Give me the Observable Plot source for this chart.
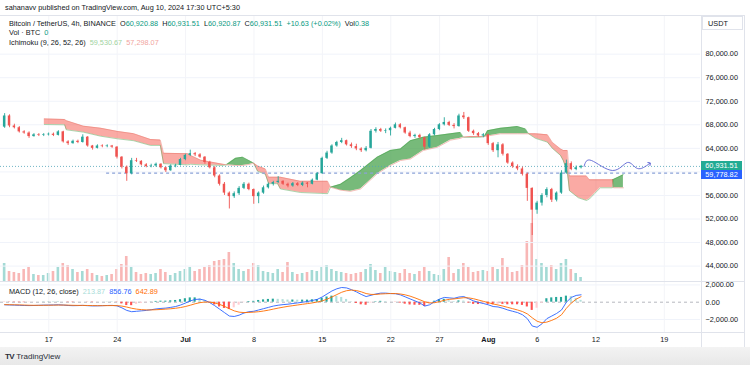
<!DOCTYPE html>
<html><head><meta charset="utf-8">
<script src="https://cdn.jsdelivr.net/npm/d3@7"></script>
<script src="https://cdn.jsdelivr.net/npm/@observablehq/plot@0.6"></script>
<style>
body{margin:0;background:#fff;font-family:"Liberation Sans",Arial,sans-serif;}
#wrap{position:relative;width:750px;height:365px;overflow:hidden;background:#fff;}
.abs{position:absolute;}
.t{font-size:7.3px;color:#131722;white-space:nowrap;line-height:10px;}
.pane{position:absolute;left:0;width:750px;overflow:hidden;}
.hl{position:absolute;background:#e0e3eb;}
</style></head><body><div id="wrap"></div>
<script>
// ---------- data (12h bars) ----------
const firstBar = "2024-06-12T11:30";
const barHours = 12;
const opens = [67600,69500,67800,67500,66800,66600,66000,66300,66200,66300,66400,66200,66800,65100,64800,65200,65000,65900,64400,64000,64400,64300,64400,64200,62500,60800,59700,61900,61800,61200,60900,61000,61300,60700,60200,61000,61100,62100,62800,63100,62900,62500,61600,60700,59300,57900,56400,55800,56300,57200,57900,57000,55800,56400,57300,57900,58200,58400,57900,57600,58000,57700,58100,57900,58600,59700,62300,63200,64400,65000,65300,64600,64300,63900,63600,64000,66900,67200,66900,67000,67400,68000,67500,66600,66000,66200,65800,64200,66300,67200,68000,68400,67900,67700,69500,69200,66900,66500,66100,66300,64800,63600,64600,63000,61500,60900,60500,59600,57200,53500,54700,56000,57000,55200,56400,59800,61400,60400,60700];
const highs = [69900,69700,68100,67700,67000,66800,66500,66500,66500,66600,66600,67000,66900,65300,65400,65400,66300,66000,64500,64600,64600,64600,64500,64300,62600,61000,62300,62300,61900,61400,61300,61500,61400,60800,61200,61300,62300,63000,63700,63300,63100,62600,61800,60900,59500,58200,56600,56600,57500,58200,58100,57100,56600,57600,58100,58400,59200,58500,58100,58200,58200,58300,58200,58800,59900,62500,63500,64600,65200,65700,65400,64900,64700,64100,64300,67200,67500,67400,67300,67600,68300,68200,67600,66900,66400,66400,65900,66500,67400,68200,69200,68600,68200,69800,70100,69300,67100,66700,66500,66400,65000,65000,64800,63100,61700,61200,60800,59800,57300,55000,56300,57300,57200,56600,60200,62000,61700,61000,61100];
const lows = [67400,67500,67300,66600,66400,65700,65900,66000,66000,66100,66000,66100,64900,64500,64700,64800,64900,64200,63700,63900,64100,64100,64000,62200,60500,58400,59500,61600,61000,60700,60700,60800,60500,59900,60100,60700,61000,61900,62600,62600,62300,61300,60500,59000,57600,56000,53700,55500,56000,57000,56800,54500,54600,56200,57100,57600,58000,57700,57300,57400,57500,57500,57300,57800,58500,59600,62100,63000,64200,64800,64400,64000,63600,63300,63400,63900,66600,66700,66500,66100,67300,67300,66400,65800,65700,65600,63700,64000,66100,67000,67800,67700,67300,67600,68900,66700,66200,65900,65800,64500,63300,62400,62700,61300,60600,60200,59300,55000,49200,52800,54200,55600,54800,54900,56200,59600,60200,60200,60500];
const closes = [69500,67800,67500,66800,66600,66000,66300,66200,66300,66400,66200,66800,65100,64800,65200,65000,65900,64400,64000,64400,64300,64400,64200,62500,60800,59700,61900,61800,61200,60900,61000,61300,60700,60200,61000,61100,62100,62800,63100,62900,62500,61600,60700,59300,57900,56400,55800,56300,57200,57900,57000,55800,56400,57300,57900,58200,58400,57900,57600,58000,57700,58100,57900,58600,59700,62300,63200,64400,65000,65300,64600,64300,63900,63600,64000,66900,67200,66900,67000,67400,68000,67500,66600,66000,66200,65800,64200,66300,67200,68000,68400,67900,67700,69500,69200,66900,66500,66100,66300,64800,63600,64600,63000,61500,60900,60500,59600,57200,53500,54700,56000,57000,55200,56400,59800,61400,60400,60700,60931.51];
const volumes = [7200,4000,3600,3200,4800,5600,2800,2400,2400,3200,4000,5600,7200,6400,4800,3600,4000,4800,3200,2400,2000,2400,2800,4800,6800,10000,5600,3600,2800,3200,2800,3200,4800,3600,2400,3200,4000,4800,5600,4000,4800,5600,6400,8000,8400,8800,11600,7200,4800,4000,4800,7200,6400,4000,3600,3200,4800,3600,7600,3600,2800,3200,3600,4400,4000,5600,6400,4800,4000,3600,3200,2800,3200,3600,4800,6800,4400,3200,5600,4000,3600,3200,4800,3200,2800,4000,5600,4000,2800,2400,4800,9600,3200,4800,7200,5600,3600,4000,4400,4000,5600,4800,9200,5600,3600,4000,6400,16000,23200,8800,7200,5600,6400,4800,7200,8800,4800,3200,1600];
const macdLine = [-300,-320,-340,-360,-380,-390,-380,-360,-340,-330,-320,-300,-330,-380,-400,-390,-370,-400,-430,-420,-400,-380,-370,-420,-650,-950,-1100,-1050,-1000,-950,-870,-780,-720,-680,-600,-500,-330,-100,150,320,350,220,-50,-400,-800,-1200,-1600,-1650,-1500,-1250,-1100,-1050,-900,-750,-600,-450,-350,-280,-230,-150,-80,0,80,200,330,600,950,1300,1550,1700,1650,1450,1200,900,650,800,950,1050,1050,1000,980,850,620,380,150,-80,-450,-300,50,350,550,500,450,600,650,400,150,-20,-150,-300,-500,-550,-700,-900,-1050,-1200,-1450,-1900,-2750,-2900,-2500,-1900,-1600,-1300,-900,0,550,780,856.76];
const signalLine = [-280,-290,-300,-310,-330,-350,-360,-360,-355,-350,-340,-330,-330,-340,-360,-370,-370,-380,-390,-400,-400,-395,-390,-395,-450,-560,-700,-800,-860,-890,-890,-870,-840,-800,-760,-700,-620,-500,-350,-180,-50,20,10,-80,-250,-480,-750,-1000,-1150,-1200,-1180,-1150,-1100,-1020,-920,-800,-680,-580,-480,-400,-320,-240,-160,-80,20,150,350,600,880,1150,1330,1400,1350,1200,1000,900,900,950,980,1000,1000,950,850,700,500,280,50,-80,-60,60,220,330,380,450,520,500,400,250,100,-50,-200,-320,-450,-600,-750,-900,-1080,-1350,-1800,-2200,-2380,-2300,-2100,-1850,-1450,-700,-100,350,642.89];
const histogram = [-20,-30,-40,-50,-50,-40,-20,0,15,20,20,30,0,-40,-40,-20,0,-20,-40,-20,0,15,20,-25,-200,-390,-400,-250,-140,-60,20,90,120,120,160,200,290,400,500,500,400,200,-60,-320,-550,-720,-850,-650,-350,-50,80,100,200,270,320,350,330,300,250,250,240,240,240,280,310,450,600,700,670,550,320,50,-150,-300,-350,-100,50,100,70,0,-20,-100,-230,-320,-350,-360,-500,-220,110,290,330,170,70,150,130,-100,-250,-270,-250,-250,-300,-230,-250,-300,-300,-300,-370,-550,-950,-700,-120,400,500,550,550,700,650,430,213.87];
const cloudTimes = ["2024-06-16T13:00","2024-06-18T15:00","2024-06-18T19:00","2024-06-20T13:00","2024-06-22T07:00","2024-06-24T01:00","2024-06-25T16:00","2024-06-27T10:00","2024-06-28T10:00","2024-06-28T18:00","2024-07-01T05:00","2024-07-01T12:00","2024-07-02T13:00","2024-07-04T19:00","2024-07-05T04:30","2024-07-06T03:00","2024-07-06T20:00","2024-07-07T15:00","2024-07-07T23:00","2024-07-08T09:00","2024-07-09T04:00","2024-07-09T12:00","2024-07-10T10:00","2024-07-10T17:00","2024-07-12T18:00","2024-07-15T13:00","2024-07-15T20:00","2024-07-16T21:00","2024-07-17T21:00","2024-07-18T22:00","2024-07-20T15:00","2024-07-21T23:00","2024-07-23T00:00","2024-07-24T00:30","2024-07-25T08:00","2024-07-26T19:00","2024-07-28T03:00","2024-07-29T03:00","2024-07-29T10:30","2024-07-30T04:00","2024-07-31T04:00","2024-07-31T14:00","2024-07-31T22:00","2024-08-02T05:30","2024-08-03T23:00","2024-08-04T19:00","2024-08-05T02:30","2024-08-05T19:30","2024-08-07T01:00","2024-08-07T13:00","2024-08-08T09:00","2024-08-08T16:00","2024-08-09T02:00","2024-08-09T07:00","2024-08-10T05:00","2024-08-11T00:40","2024-08-11T08:00","2024-08-11T20:30","2024-08-12T11:00","2024-08-13T16:30","2024-08-13T19:00","2024-08-14T07:00","2024-08-14T19:30"];
const leadA = [68050,68000,67150,66750,66070,65620,65300,64500,64500,61400,61200,61300,61200,61100,61200,62300,62500,61800,61500,60100,59600,58000,58000,57100,56500,56300,57400,57900,59000,60240,62500,63640,63900,65300,65900,66180,66470,66700,65900,65850,65900,66000,67000,67400,67700,67300,66470,65700,65050,64000,62800,61900,59950,56800,55600,55150,55400,56300,57300,57300,58700,59100,59530.67];
const leadB = [69000,68900,68700,67770,67430,66870,66500,65500,65400,63150,63100,62800,62000,61300,61200,61100,61100,61300,61500,61000,60500,59100,59100,59100,58400,58400,57400,56900,56700,57100,59700,61090,61930,62200,63640,64200,65400,65700,65900,66000,66000,66000,66100,66470,66470,66470,66470,66470,66300,65000,63900,63640,63640,59300,59300,59300,58650,58650,58650,58650,57300,57300,57298.07];
const projTimes = ["2024-08-10T19:00","2024-08-11T13:00","2024-08-13T17:00","2024-08-15T05:30","2024-08-16T06:00","2024-08-17T12:00"];
const projPrices = [60950,61940,60240,61600,60580,61430];
const levelPrices = [59778.82];
const levelStarts = ["2024-06-22T22:00"];
const priceTicks = [44000,48000,52000,56000,60000,64000,68000,72000,76000,80000];
const macdTicks = [2000,0,-2000];
const dateTicks = ["2024-06-17","2024-06-24","2024-07-01","2024-07-08","2024-07-15","2024-07-22","2024-07-27","2024-08-01","2024-08-06","2024-08-12","2024-08-19"];
const dateLabels = ["17","24","Jul","8","15","22","27","Aug","6","12","19"];
const monthLabels = ["Jul","Aug"];
const headerText = "sahanavv published on TradingView.com, Aug 10, 2024 17:30 UTC+5:30";
const symbolText = "Bitcoin / TetherUS, 4h, BINANCE";
const ohlcKeys = ["O","H","L","C"];
const ohlcVals = ["60,920.88","60,931.51","60,920.87","60,931.51"];
const changeText = "+10.63 (+0.02%)";
const volText = "0.38";
const ichiVals = ["59,530.67","57,298.07"];
const macdVals = ["213.87","856.76","642.89"];

// ---------- build ----------
const UP = "#26a69a", DN = "#ef5350";
const H = 3600e3, DAY = 864e5;
const p = s => new Date(s.length > 10 ? s + "Z" : s);
const j17 = Date.UTC(2024,5,17);
const xDomain = [new Date(j17 - 4.944*DAY), new Date(j17 + 66.704*DAY)];
const t0 = +p(firstBar);
const bars = closes.map((c,i) => ({
  t: new Date(t0 + i*barHours*H), open: opens[i], high: highs[i], low: lows[i], close: c,
  vol: volumes[i], macd: macdLine[i], signal: signalLine[i], hist: histogram[i],
  col: c >= opens[i] ? UP : DN,
  vcol: c >= opens[i] ? "rgba(38,166,154,0.42)" : "rgba(239,83,80,0.42)",
  hcol: histogram[i] >= 0 ? (i>0 && histogram[i] < histogram[i-1] ? "#b2dfdb" : "#26a69a")
                          : (i>0 && histogram[i] > histogram[i-1] ? "#ffcdd2" : "#ff5252")
}));
const half = h => [d => new Date(+d.t - h*H), d => new Date(+d.t + h*H)];
const [bx1, bx2] = half(3), [vx1, vx2] = half(3.2), [hx1, hx2] = half(2.6);
const cloud = cloudTimes.map((s,i) => ({t: p(s), A: leadA[i], B: leadB[i], M: Math.max(leadA[i], leadB[i])}));
const proj = projTimes.map((s,i) => ({t: p(s), p: projPrices[i]}));
const levels = levelPrices.map((v,i) => ({price: v, from: p(levelStarts[i]), to: xDomain[1]}));
const dTicks = dateTicks.map((s,i) => ({t: p(s), label: dateLabels[i]}));
const lastClose = closes[closes.length-1];
const fmt = d3.format(",.2f");
const FONT = "Liberation Sans, Arial, sans-serif";
const baseStyle = {background:"transparent", overflow:"visible", fontFamily:FONT, fontSize:"7.3px", color:"#131722"};
const common = {width:750, marginLeft:0, marginRight:50, marginTop:0, marginBottom:0,
  x:{type:"utc", domain:xDomain, axis:null}, color:{type:"identity"}, style:baseStyle};

const wrap = document.getElementById("wrap");
function pane(top, height, node){
  const d = document.createElement("div"); d.className = "pane";
  d.style.top = top + "px"; d.style.height = height + "px";
  d.appendChild(node); wrap.appendChild(d); return d;
}

const volPlot = Plot.plot({...common, height:60, y:{domain:[0,24000], axis:null},
  marks:[ Plot.rectY(bars, {x1:vx1, x2:vx2, y:"vol", fill:"vcol"}) ]});

const pricePlot = Plot.plot({...common, height:266, y:{domain:[41385,86565]},
  marks:[
    Plot.ruleY(priceTicks, {stroke:"#f0f3fa"}),
    Plot.ruleX(dTicks, {x:"t", stroke:"#f3f4f8"}),
    Plot.areaY(cloud, {x:"t", y1:"B", y2:"M", fill:"rgba(67,160,71,0.72)"}),
    Plot.areaY(cloud, {x:"t", y1:"A", y2:"M", fill:"rgba(244,67,54,0.45)"}),
    Plot.line(cloud, {x:"t", y:"A", stroke:"#43a047", strokeOpacity:0.55, strokeWidth:0.8}),
    Plot.line(cloud, {x:"t", y:"B", stroke:"#e57368", strokeOpacity:0.6, strokeWidth:0.8}),
    Plot.ruleY([lastClose], {stroke:"#4fa3b8", strokeOpacity:0.8, strokeDasharray:"1,2"}),
    Plot.ruleY(levels, {y:"price", x1:"from", x2:"to", stroke:"#8ba2d8", strokeWidth:1.2, strokeDasharray:"3,3"}),
    Plot.ruleX(bars, {x:"t", y1:"low", y2:"high", stroke:"col", strokeWidth:0.9}),
    Plot.rectY(bars, {x1:bx1, x2:bx2, y1:"open", y2:"close", fill:"col"}),
    Plot.line(proj, {x:"t", y:"p", curve:"natural", stroke:"#5b63d3", strokeWidth:0.9, markerEnd:"arrow"}),
    Plot.axisY(priceTicks.filter(v => v !== 60000), {anchor:"right", tickSize:0, tickPadding:5, tickFormat:fmt, fontSize:7.3})
  ]});

const macdPlot = Plot.plot({...common, height:51, y:{domain:[-3503,2393]},
  marks:[
    Plot.ruleY([2000,-2000], {stroke:"#f0f3fa"}),
    Plot.ruleX(dTicks, {x:"t", stroke:"#f3f4f8"}),
    Plot.ruleY([0], {stroke:"#9598a1", strokeOpacity:0.7, strokeDasharray:"3,3"}),
    Plot.rectY(bars, {x1:hx1, x2:hx2, y:"hist", fill:"hcol"}),
    Plot.line(bars, {x:"t", y:"macd", stroke:"#2962ff", strokeWidth:0.9}),
    Plot.line(bars, {x:"t", y:"signal", stroke:"#ff6d00", strokeWidth:0.9}),
    Plot.axisY(macdTicks, {anchor:"right", tickSize:0, tickPadding:5, tickFormat:fmt, fontSize:7.3})
  ]});

const axisPlot = Plot.plot({...common, height:15, y:{axis:null},
  marks:[
    Plot.text(dTicks.filter(d => !monthLabels.includes(d.label)), {x:"t", text:"label", frameAnchor:"middle", fontSize:7.3, fill:"#131722"}),
    Plot.text(dTicks.filter(d => monthLabels.includes(d.label)), {x:"t", text:"label", frameAnchor:"middle", fontSize:7.3, fontWeight:"bold", fill:"#131722"})
  ]});

pane(221, 60, volPlot);
pane(15, 266, pricePlot);
pane(281, 51, macdPlot);
pane(332, 15, axisPlot);

// frame lines
function hl(x,y,w,h){const d=document.createElement("div");d.className="hl";Object.assign(d.style,{left:x+"px",top:y+"px",width:w+"px",height:h+"px"});wrap.appendChild(d);}
hl(0,15,745,1); hl(0,281,745,1); hl(0,331.5,745,1); hl(0,346.5,745,1);
hl(700.5,15,1,332); hl(744,15,1,332);

function txt(html, left, top, extra){
  const d=document.createElement("div"); d.className="abs t"; d.innerHTML=html;
  d.style.left=left+"px"; d.style.top=top+"px"; if(extra) Object.assign(d.style, extra);
  wrap.appendChild(d); return d;
}
const g = s => `<span style="color:#089981">${s}</span>`;
txt(headerText, 5, 2.5);
txt(symbolText + "&nbsp; " + ohlcKeys.map((k,i)=>k+g(ohlcVals[i])).join("&nbsp; ") + "&nbsp; " + g(changeText) + "&nbsp; Vol" + g(volText), 9, 19);
txt("Vol · BTC&nbsp; " + g("0"), 9, 27.5);
txt("Ichimoku (9, 26, 52, 26)&nbsp; <span style='color:#9fd39f'>"+ichiVals[0]+"</span>&nbsp; <span style='color:#f1a5a0'>"+ichiVals[1]+"</span>", 9, 37.5);
txt("MACD (12, 26, close)&nbsp; <span style='color:#a8dcd8'>"+macdVals[0]+"</span>&nbsp; <span style='color:#2962ff'>"+macdVals[1]+"</span>&nbsp; <span style='color:#ff6d00'>"+macdVals[2]+"</span>", 9, 286.5);

// USDT box
txt("USDT", 702, 15.5, {width:"41px", height:"14px", lineHeight:"14px", paddingLeft:"0", border:"1px solid #e0e3eb", background:"#fff", textIndent:"5px", boxSizing:"border-box"});

// price label boxes placed with the plot's own y scale
const ys = pricePlot.scale("y");
const yLast = 15 + ys.apply(lastClose), yLevel = 15 + ys.apply(levelPrices[0]);
const b1 = yLast - 4.5, b2 = Math.max(yLevel - 4.5, b1 + 9);
txt(fmt(lastClose), 701, b1, {width:"41px", height:"9px", lineHeight:"9px", background:"#22ab94", color:"#fff", textAlign:"center"});
txt(fmt(levelPrices[0]), 701, b2, {width:"41px", height:"9px", lineHeight:"9px", background:"#2962ff", color:"#fff", textAlign:"center"});

// bottom band
const band = document.createElement("div");
Object.assign(band.style, {position:"absolute", left:"0", top:"347px", width:"750px", height:"18px", background:"linear-gradient(#f3f3f3,#e8e8e8)"});
wrap.appendChild(band);
txt("<b style='font-weight:900;letter-spacing:-0.6px;font-size:8px'>TV</b>&nbsp;TradingView", 5, 352, {fontSize:"8px", color:"#2a2e39"});
</script></body></html>
